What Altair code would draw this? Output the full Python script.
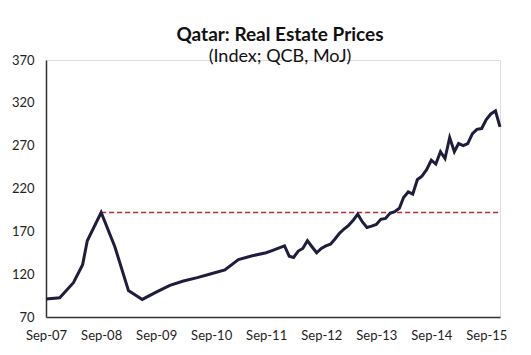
import altair as alt
import pandas as pd

dates = [
    "2007-09-01", "2007-12-01", "2008-03-01", "2008-05-01", "2008-06-01", "2008-09-01",
    "2008-12-01", "2009-03-01", "2009-06-01", "2009-09-01", "2009-12-01", "2010-03-01",
    "2010-06-01", "2010-09-01", "2010-12-01", "2011-03-01", "2011-06-01", "2011-09-01",
    "2011-10-01", "2011-11-01", "2011-12-01", "2012-01-01", "2012-02-01", "2012-03-01",
    "2012-04-01", "2012-05-01", "2012-06-01", "2012-07-01", "2012-08-01", "2012-09-01",
    "2012-10-01", "2012-11-01", "2012-12-01", "2013-01-01", "2013-02-01", "2013-03-01",
    "2013-04-01", "2013-05-01", "2013-06-01", "2013-07-01", "2013-08-01", "2013-09-01",
    "2013-10-01", "2013-11-01", "2013-12-01", "2014-01-01", "2014-02-01", "2014-03-01",
    "2014-04-01", "2014-05-01", "2014-06-01", "2014-07-01", "2014-08-01", "2014-09-01",
    "2014-10-01", "2014-11-01", "2014-12-01", "2015-01-01", "2015-02-01", "2015-03-01",
    "2015-04-01", "2015-05-01", "2015-06-01", "2015-07-01", "2015-08-01", "2015-09-01",
    "2015-10-01", "2015-11-01", "2015-12-01",
]
index_values = [
    91, 92.5, 110, 131, 159, 192,
    152, 101, 90.5, 99, 107, 112,
    116, 120.5, 125, 137, 141.5, 145,
    147, 149, 151, 153, 141, 139.5,
    147, 150, 159, 152, 145, 150,
    153, 155, 161, 168, 173, 177,
    183, 190, 181, 174.5, 176, 178,
    184, 185, 191, 193, 197, 209.5,
    216, 213.5, 230.5, 234.5, 242, 253,
    248.5, 263, 255, 279.5, 263, 272.5,
    270, 272.5, 284, 289, 290, 300.5,
    307, 310.5, 292,
]
ref_start = ["2008-09-01"]
ref_end = ["2015-12-01"]
ref_level = [192]
y_ticks = [70, 120, 170, 220, 270, 320, 370]
x_ticks = ["2007-09-01", "2008-09-01", "2009-09-01", "2010-09-01", "2011-09-01",
           "2012-09-01", "2013-09-01", "2014-09-01", "2015-09-01"]

df = pd.DataFrame({"date": pd.to_datetime(dates), "value": index_values})
ref = pd.DataFrame({"start": pd.to_datetime(ref_start), "end": pd.to_datetime(ref_end), "level": ref_level})

FONT = "Lato"
x_scale = alt.Scale(domain=[pd.Timestamp("2007-09-01").isoformat(), pd.Timestamp("2015-12-01").isoformat()])
y_scale = alt.Scale(domain=[70, 370], nice=False, zero=False)

x_axis = alt.Axis(
    values=[pd.Timestamp(d).isoformat() for d in x_ticks], format="%b-%y", title=None,
    grid=False, ticks=False, domainColor="#333333", domainWidth=1.5,
    labelFont=FONT, labelFontSize=13, labelColor="#222222", labelPadding=12,
    labelOverlap=False, labelFlush=False,
)
y_axis = alt.Axis(
    values=y_ticks, title=None, grid=False, ticks=False, domainColor="#333333", domainWidth=1.5,
    labelFont=FONT, labelFontSize=13, labelColor="#222222", labelPadding=12,
    labelOverlap=False, labelFlush=False,
)

line = alt.Chart(df).mark_line(color="#1f1d3d", strokeWidth=3).encode(
    x=alt.X("date:T", scale=x_scale, axis=x_axis),
    y=alt.Y("value:Q", scale=y_scale, axis=y_axis),
)

rule = alt.Chart(ref).mark_rule(color="#c0282d", strokeWidth=1.5, strokeDash=[5, 3]).encode(
    x=alt.X("start:T", scale=x_scale),
    x2="end:T",
    y=alt.Y("level:Q", scale=y_scale),
)

chart = alt.layer(rule, line).properties(
    width=454,
    height=257,
    padding={"left": 38, "top": 52, "right": 20, "bottom": 30},
    autosize=alt.AutoSizeParams(type="none"),
    title=alt.TitleParams(
        text="Qatar: Real Estate Prices",
        subtitle="(Index; QCB, MoJ)",
        font=FONT, fontSize=19, fontWeight="bold", color="#111111",
        subtitleFont=FONT, subtitleFontSize=18, subtitleColor="#111111",
        anchor="middle", offset=-12, subtitlePadding=3, dx=7,
    ),
).configure_view(stroke=None).configure(background="white")

chart.save("out.html", embed_options={"renderer": "svg", "actions": False})
